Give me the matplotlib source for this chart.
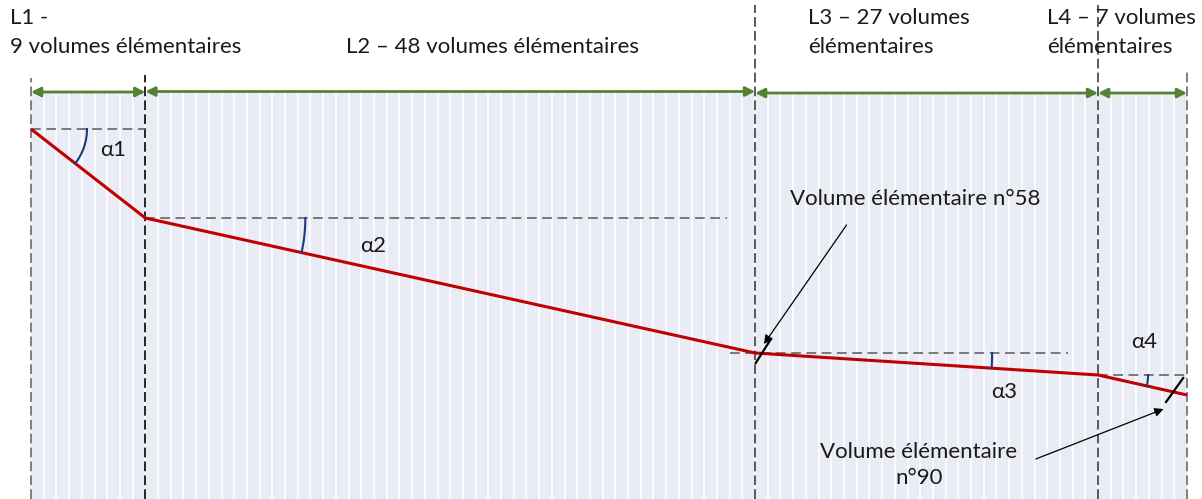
import numpy as np
import matplotlib
matplotlib.use("Agg")
import matplotlib.pyplot as plt

plt.rcParams['font.family'] = ['Lato', 'DejaVu Sans']
plt.rcParams['lines.scale_dashes'] = False

# ---- data ----
segment_names = [["L1 -", "9 volumes élémentaires"],
                 ["L2 – 48 volumes élémentaires"],
                 ["L3 – 27 volumes", "élémentaires"],
                 ["L4 – 7 volumes", "élémentaires"]]
segment_counts = [9, 48, 27, 7]
boundary_elev = [370, 281, 146, 124, 104]       # elevation at each segment boundary
angle_names = ["α1", "α2", "α3", "α4"]
vol58_label = ["Volume élémentaire n°58"]
vol90_label = ["Volume élémentaire", "n°90"]
vol58_index = 58
vol90_index = 90

# ---- layout / style ----
W, H, DPI = 1202, 499, 100
px_per_vol = 1156 / 91
x_left_px = 31
top_band = 406
bg_col = '#E9EBF5'
red = '#C00000'
green = '#548235'
arc_col = '#1F3A7A'
txt_col = '#1a1a1a'
fs = 16

fig = plt.figure(figsize=(W / DPI, H / DPI), dpi=DPI)
ax = fig.add_axes([0, 0, 1, 1])
ax.set_xlim(-x_left_px / px_per_vol, (W - x_left_px) / px_per_vol)
ax.set_ylim(0, H)
ax.axis('off')
sx = px_per_vol
sy = 1.0

bounds = np.concatenate([[0], np.cumsum(segment_counts)])
total = bounds[-1]

# background band with white stripes at every elementary volume
ax.fill_between([0, total], 0, top_band, color=bg_col, lw=0, zorder=0)
for i in range(1, total):
    ax.plot([i, i], [0, top_band], color='white', lw=1.2, zorder=1)

# vertical dashed boundaries
vtops = [421, 424, 494, 494, 427]
vcols = ['#7f7f7f', '#262626', '#595959', '#595959', '#7f7f7f']
for b, t, c in zip(bounds, vtops, vcols):
    ax.plot([b, b], [0, t], color=c, lw=1.4, dashes=(7, 3), zorder=3)

# green double arrows
arrow_y = [407, 407.5, 406, 406]
for i in range(len(segment_counts)):
    ax.annotate('', xy=(bounds[i], arrow_y[i]), xytext=(bounds[i + 1], arrow_y[i]),
                arrowprops=dict(arrowstyle='<|-|>', color=green, lw=2.0,
                                mutation_scale=14, shrinkA=0, shrinkB=0), zorder=4)

# headings (left x of each block, line y positions)
head_x = [-1.65, 24.8, 61.17, 79.98]
line_y = [481, 452]
for name, x in zip(segment_names, head_x):
    ys = line_y if len(name) == 2 else [line_y[1]]
    for line, y in zip(name, ys):
        ax.text(x, y, line, fontsize=fs, color=txt_col, ha='left', va='center')

# horizontal reference lines
ref_ends = [9, 54.8, 81.6, 91]
ref_starts = [0, 9, 55.0, 84]
for i in range(4):
    ax.plot([ref_starts[i], ref_ends[i]], [boundary_elev[i], boundary_elev[i]],
            color='#6f6f6f', lw=1.3, dashes=(7, 4), zorder=3)

# profile
ax.plot(bounds, boundary_elev, color=red, lw=2.2, zorder=5, solid_capstyle='butt')

# angle arcs
radii = [56, 160, 237, 50]
label_pos = [(6.45, 349), (26.9, 253), (76.6, 107), (87.6, 157)]
for i in range(4):
    x0, y0 = bounds[i], boundary_elev[i]
    x1, y1 = bounds[i + 1], boundary_elev[i + 1]
    th = np.arctan2((y1 - y0) * sy, (x1 - x0) * sx)
    t = np.linspace(th, 0, 40)
    ax.plot(x0 + radii[i] * np.cos(t) / sx, y0 + radii[i] * np.sin(t) / sy,
            color=arc_col, lw=1.5, zorder=6)
    ax.text(label_pos[i][0], label_pos[i][1], angle_names[i], fontsize=fs,
            color=txt_col, ha='center', va='center')

# volume 58 annotation
x58 = vol58_index - 1
ax.text(59.75, 300, vol58_label[0], fontsize=fs, color=txt_col, ha='left', va='center')
ax.annotate('', xy=(x58 + 0.7, 155), xytext=(x58 + 7.2, 274),
            arrowprops=dict(arrowstyle='-|>', color='black', lw=0.9,
                            mutation_scale=13, shrinkA=0, shrinkB=0), zorder=7)
ax.plot([x58 + 1.25, x58 + 0.05], [160, 136], color='black', lw=1.6, zorder=7)

# volume 90 annotation
x90 = vol90_index
for line, y in zip(vol90_label, [47, 21]):
    ax.text(69.9, y, line, fontsize=fs, color=txt_col, ha='center', va='center')
ax.annotate('', xy=(x90 - 0.85, 90), xytext=(79.1, 40),
            arrowprops=dict(arrowstyle='-|>', color='black', lw=0.9,
                            mutation_scale=13, shrinkA=0, shrinkB=0), zorder=7)
ax.plot([x90 + 0.7, x90 - 0.65], [121, 97], color='black', lw=1.6, zorder=7)

fig.savefig('out.png', dpi=DPI)
